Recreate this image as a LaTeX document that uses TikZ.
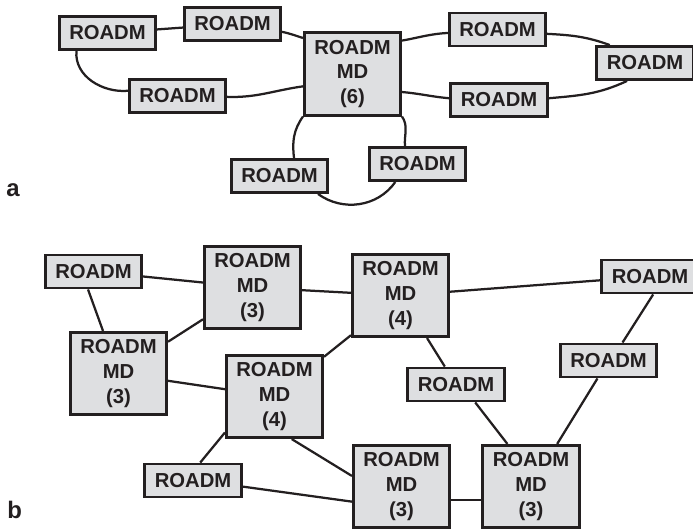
\documentclass[tikz,border=0pt]{standalone}
\usepackage{fontspec}
\setmainfont{Liberation Sans}
\usepackage{tikz}
\definecolor{boxgray}{RGB}{222,223,225}
\definecolor{inkdark}{RGB}{35,31,32}
\tikzset{
  roadm/.style={draw=inkdark, fill=boxgray, line width=1.9pt, inner sep=0pt,
    minimum width=2.41cm, minimum height=0.83cm, text=inkdark,
    font=\fontsize{14.4}{17.7}\selectfont\bfseries},
  roadmmd/.style={roadm, minimum height=2.06cm, align=center},
  link/.style={draw=inkdark, line width=1.6pt},
  panel/.style={anchor=base west, inner sep=0pt, text=inkdark,
    font=\fontsize{17}{20}\selectfont\bfseries}
}
\begin{document}
\begin{tikzpicture}[x=0.025cm, y=-0.025cm]
\useasboundingbox (0,0) rectangle (693,531);
\node[roadm] (a1) at (107.5,33) {ROADM};
\node[roadm] (a2) at (232.5,24) {ROADM};
\node[roadm] (a3) at (177.5,96) {ROADM};
\node[roadmmd] (amd) at (352.5,74) {ROADM\\MD\\(6)};
\node[roadm] (a4) at (497.5,29.5) {ROADM};
\node[roadm] (a5) at (645,63) {ROADM};
\node[roadm] (a6) at (499,100) {ROADM};
\node[roadm] (a7) at (417.5,164) {ROADM};
\node[roadm] (a8) at (279.5,176) {ROADM};
\node[panel] (la) at (6,197) {a};
\draw[link] (a1) -- (a2);
\draw[link] (a2.-9) to[out=-12, in=162] (amd.144);
\draw[link] (amd.194) to[out=188, in=-2] (a3.-1);
\draw[link] (a3.174) to[out=185, in=-95] (a1.210);
\draw[link] (amd.34) to[out=10, in=183] (a4.184);
\draw[link] (a4.-5) to[out=-3, in=160] (a5.153);
\draw[link] (a5.225) to[out=205, in=5] (a6.2);
\draw[link] (a6.178) to[out=175, in=-5] (amd.-20);
\draw[link] (amd.south west) to[out=235, in=97] (a8.51);
\draw[link] (a8.-25) to[out=-36, in=235] (a7.219);
\draw[link] (a7.125) to[out=94, in=-56] (amd.south east);
\node[roadm] (b1) at (93.5,271.5) {ROADM};
\node[roadmmd] (b2) at (252.5,287.5) {ROADM\\MD\\(3)};
\node[roadmmd] (b3) at (118.5,373.5) {ROADM\\MD\\(3)};
\node[roadmmd] (b4) at (274.5,396.5) {ROADM\\MD\\(4)};
\node[roadm] (b5) at (193,480.5) {ROADM};
\node[roadmmd] (b6) at (400.5,295.5) {ROADM\\MD\\(4)};
\node[roadm] (b7) at (650,276.5) {ROADM};
\node[roadm] (b8) at (608.5,360.5) {ROADM};
\node[roadm] (b9) at (456,384.5) {ROADM};
\node[roadmmd] (b10) at (401.5,486.5) {ROADM\\MD\\(3)};
\node[roadmmd] (b11) at (531,486.5) {ROADM\\MD\\(3)};
\node[panel] (lb) at (7,519) {b};
\draw[link] (b1) -- (b2);
\draw[link] (b1.-107) -- (b3.110);
\draw[link] (b2) -- (b3);
\draw[link] (b2) -- (b6);
\draw[link] (b3) -- (b4);
\draw[link] (b4) -- (b6);
\draw[link] (b4.216) -- (b5.68);
\draw[link] (b4.-68) -- (b10.168);
\draw[link] (b5.-7) -- (b10.197);
\draw[link] (b6) -- (b7);
\draw[link] (b6) -- (b9);
\draw[link] (b9.-43) -- (b11.119);
\draw[link] (b8) -- (b11);
\draw[link] (b7.-80) -- (b8.52);
\draw[link] (b10.-15) -- (b11.195);
\end{tikzpicture}
\end{document}
